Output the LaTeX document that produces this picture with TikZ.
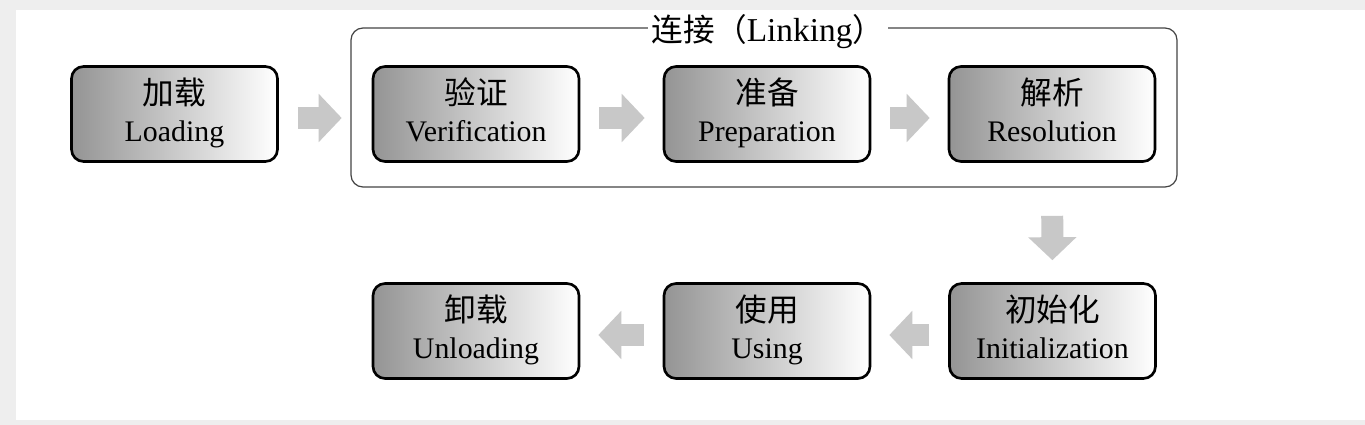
\documentclass[tikz,border=0pt]{standalone}
\usepackage{fontspec}
\setmainfont{Liberation Serif}
\newfontfamily\cjk{Noto Sans CJK SC}
\usetikzlibrary{arrows.meta}

\definecolor{bggray}{HTML}{EEEEEE}
\definecolor{flowgray}{HTML}{C8C8C8}
\definecolor{framegray}{HTML}{444444}

\newcommand\stagetext[2]{\strut{\cjk\fontsize{18}{21}\selectfont #1}\\#2\rule[-5pt]{0pt}{5pt}}

\tikzset{
  stage/.style={draw=black, line width=1.5pt, rounded corners=0.24cm,
    minimum width=4.12cm, minimum height=1.9cm, inner sep=0pt,
    left color=black!42, right color=white, align=center,
    font=\fontsize{17}{21}\selectfont},
  flow/.style={draw=flowgray, line width=0.44cm,
    -{Triangle[length=0.46cm,width=0.94cm]},
    shorten <=0.38cm, shorten >=0.36cm},
  linkbox/.style={draw=framegray, line width=0.7pt, rounded corners=0.24cm},
}

\begin{document}
\begin{tikzpicture}[x=0.02cm,y=-0.02cm]

% background
\fill[bggray] (0,0) rectangle (1365,425);
\fill[white] (16,10) rectangle (1365,420);

% linking frame
\draw[linkbox] (351,28) rectangle (1177,187);
\node[fill=white, anchor=base, inner xsep=0.08cm, inner ysep=0pt, font=\fontsize{19}{20}\selectfont] (linktitle) at (768,42) {{\cjk\fontsize{18}{20}\selectfont 连接（}Linking{\cjk\fontsize{18}{20}\selectfont ）}};

% stages
\node[stage] (load) at (174.5,114) {\stagetext{加载}{Loading}};
\node[stage] (verif) at (476,114) {\stagetext{验证}{Verification}};
\node[stage] (prep) at (767,114) {\stagetext{准备}{Preparation}};
\node[stage] (resol) at (1052,114) {\stagetext{解析}{Resolution}};
\node[stage] (init) at (1052.5,331) {\stagetext{初始化}{Initialization}};
\node[stage] (using) at (767,331) {\stagetext{使用}{Using}};
\node[stage] (unload) at (476,331) {\stagetext{卸载}{Unloading}};

% flow arrows
\draw[flow, shorten >=0.6cm] ([yshift=-0.08cm]load.east) -- ([yshift=-0.08cm]verif.west);
\draw[flow] ([yshift=-0.08cm]verif.east) -- ([yshift=-0.08cm]prep.west);
\draw[flow] ([yshift=-0.08cm]prep.east) -- ([yshift=-0.08cm]resol.west);
\draw[flow, shorten <=1.06cm, shorten >=0.44cm] (resol.south) -- (init.north);
\draw[flow] ([yshift=-0.08cm]init.west) -- ([yshift=-0.08cm]using.east);
\draw[flow] ([yshift=-0.08cm]using.west) -- ([yshift=-0.08cm]unload.east);
\end{tikzpicture}
\end{document}
